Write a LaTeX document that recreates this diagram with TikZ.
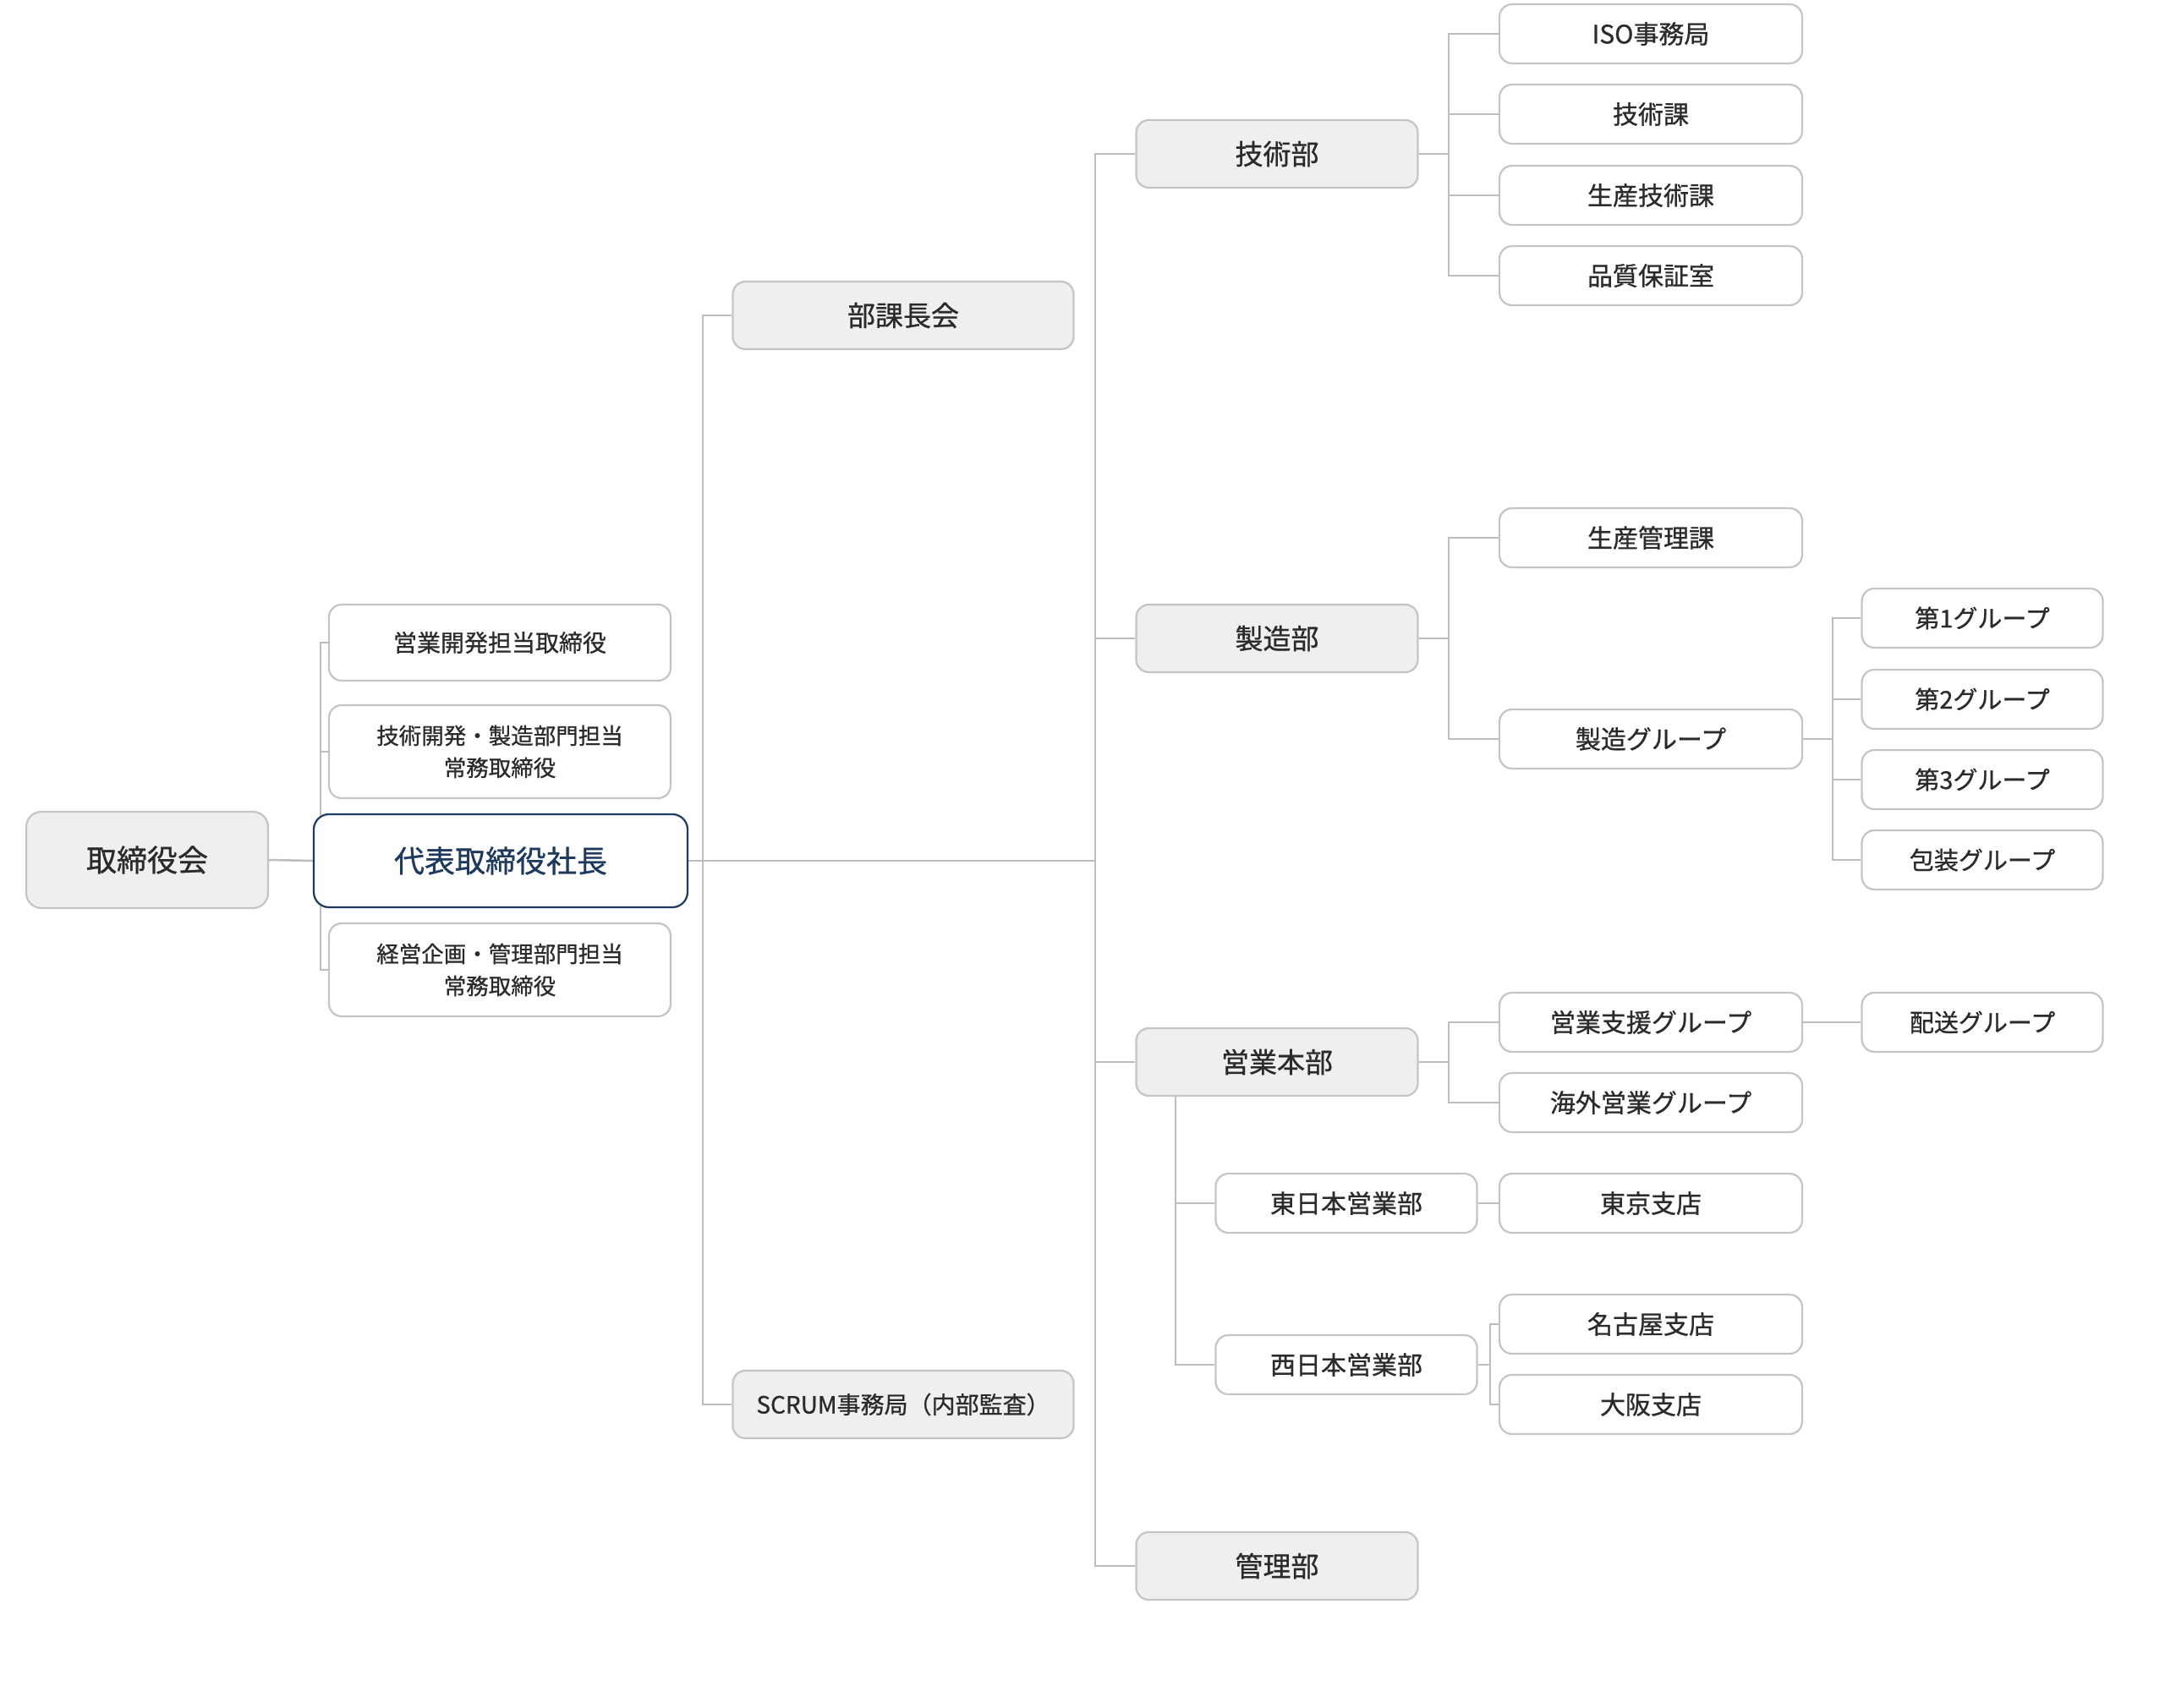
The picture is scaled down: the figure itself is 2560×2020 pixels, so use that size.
\documentclass[tikz,border=0pt]{standalone}
\usepackage{fontspec}
\setmainfont{Noto Sans CJK JP}[FakeBold=0.8]
\definecolor{boxline}{HTML}{C4C4C2}
\definecolor{grayfill}{HTML}{EFEFED}
\definecolor{conn}{HTML}{BDBDBD}
\definecolor{txt}{HTML}{2B2B2B}
\definecolor{navy}{HTML}{1E3A5F}
\pgfdeclarelayer{bg}
\pgfsetlayers{bg,main}
\tikzset{
  base/.style={rectangle, rounded corners=15pt, draw=boxline, line width=2.2pt, fill=white,
    inner sep=0pt, align=center, text=txt},
  graybox/.style={base, fill=grayfill, minimum width=333pt, minimum height=80pt, font=\fontsize{33}{40}\selectfont},
  smallbox/.style={base, minimum width=358pt, minimum height=70pt, font=\fontsize{30}{36}\selectfont},
  grpbox/.style={base, minimum width=285pt, minimum height=70pt, font=\fontsize{29}{36}\selectfont},
  areabox/.style={base, minimum width=309pt, minimum height=70pt, font=\fontsize{30}{36}\selectfont},
  execbox/.style={base, minimum width=404pt, minimum height=110pt, font=\fontsize{26.5}{38}\selectfont},
  wire/.style={draw=conn, line width=2.5pt},
}
\begin{document}
\begin{tikzpicture}[x=1pt,y=-1pt]
\useasboundingbox (0,0) rectangle (2560,2020);

% level 0/1
\node[base, fill=grayfill, minimum width=286pt, minimum height=114pt, rounded corners=18pt, font=\fontsize{36}{42}\selectfont] (board) at (174,1017) {取締役会};
\node[base, draw=navy, text=navy, minimum width=442pt, minimum height=110pt, rounded corners=18pt, font=\fontsize{36}{42}\selectfont] (pres) at (592,1018) {代表取締役社長};
\node[execbox, minimum height=90pt, font=\fontsize{28}{38}\selectfont] (e1) at (591,760) {営業開発担当取締役};
\node[execbox] (e2) at (591,889) {技術開発・製造部門担当\\常務取締役};
\node[execbox] (e3) at (591,1147) {経営企画・管理部門担当\\常務取締役};

\node[graybox, minimum width=403pt] (kacho) at (1068,373) {部課長会};
\node[graybox, minimum width=403pt, font=\fontsize{28}{36}\selectfont] (scrum) at (1068,1661) {SCRUM事務局（内部監査）};

% departments
\node[graybox] (gijutsu) at (1510,182) {技術部};
\node[graybox] (seizo) at (1510,755) {製造部};
\node[graybox] (eigyo) at (1510,1256) {営業本部};
\node[graybox] (kanri) at (1510,1852) {管理部};

% technical
\node[smallbox] (iso) at (1952,40) {ISO事務局};
\node[smallbox] (gika) at (1952,135) {技術課};
\node[smallbox] (seigika) at (1952,231) {生産技術課};
\node[smallbox] (hinshitsu) at (1952,326) {品質保証室};

% manufacturing
\node[smallbox] (seikan) at (1952,636) {生産管理課};
\node[smallbox] (seizog) at (1952,874) {製造グループ};
\node[grpbox] (g1) at (2344,731) {第1グループ};
\node[grpbox] (g2) at (2344,827) {第2グループ};
\node[grpbox] (g3) at (2344,922) {第3グループ};
\node[grpbox] (g4) at (2344,1017) {包装グループ};

% sales
\node[smallbox] (shien) at (1952,1209) {営業支援グループ};
\node[smallbox] (kaigai) at (1952,1304) {海外営業グループ};
\node[grpbox] (haiso) at (2344,1209) {配送グループ};
\node[areabox] (higashi) at (1592,1423) {東日本営業部};
\node[areabox] (nishi) at (1592,1614) {西日本営業部};
\node[smallbox] (tokyo) at (1952,1423) {東京支店};
\node[smallbox] (nagoya) at (1952,1566) {名古屋支店};
\node[smallbox] (osaka) at (1952,1661) {大阪支店};

\coordinate (execx) at (379,0);
\coordinate (midx) at (831,0);
\coordinate (trunkx) at (1295,0);
\coordinate (subx) at (1713,0);
\coordinate (grpx) at (2167,0);
\coordinate (salesx) at (1390,0);
\coordinate (westx) at (1762,0);

\begin{pgfonlayer}{bg}
\draw[wire] (board.east) -- (pres.west);
% executives
\draw[wire] (e1.west) -| (execx |- e3.west) -- (e3.west);
\draw[wire] (e2.west) -- (execx |- e2.west);
% president to trunk
\draw[wire] (pres.east) -- (trunkx |- pres.east);
\draw[wire] (kacho.west) -| (midx |- scrum.west) -- (scrum.west);
\draw[wire] (gijutsu.west) -| (trunkx |- kanri.west) -- (kanri.west);
\draw[wire] (seizo.west) -- (trunkx |- seizo.west);
\draw[wire] (eigyo.west) -- (trunkx |- eigyo.west);
% technical
\draw[wire] (gijutsu.east) -- (subx |- gijutsu.east);
\draw[wire] (iso.west) -| (subx |- hinshitsu.west) -- (hinshitsu.west);
\draw[wire] (gika.west) -- (subx |- gika.west);
\draw[wire] (seigika.west) -- (subx |- seigika.west);
% manufacturing
\draw[wire] (seizo.east) -- (subx |- seizo.east);
\draw[wire] (seikan.west) -| (subx |- seizog.west) -- (seizog.west);
\draw[wire] (seizog.east) -- (grpx |- seizog.east);
\draw[wire] (g1.west) -| (grpx |- g4.west) -- (g4.west);
\draw[wire] (g2.west) -- (grpx |- g2.west);
\draw[wire] (g3.west) -- (grpx |- g3.west);
% sales
\draw[wire] (eigyo.east) -- (subx |- eigyo.east);
\draw[wire] (shien.west) -| (subx |- kaigai.west) -- (kaigai.west);
\draw[wire] (shien.east) -- (haiso.west);
\draw[wire] (salesx |- eigyo.south) -- (salesx |- nishi.west) -- (nishi.west);
\draw[wire] (higashi.west) -- (salesx |- higashi.west);
\draw[wire] (higashi.east) -- (tokyo.west);
\draw[wire] (nishi.east) -- (westx |- nishi.east);
\draw[wire] (nagoya.west) -| (westx |- osaka.west) -- (osaka.west);
\end{pgfonlayer}
\end{tikzpicture}
\end{document}
